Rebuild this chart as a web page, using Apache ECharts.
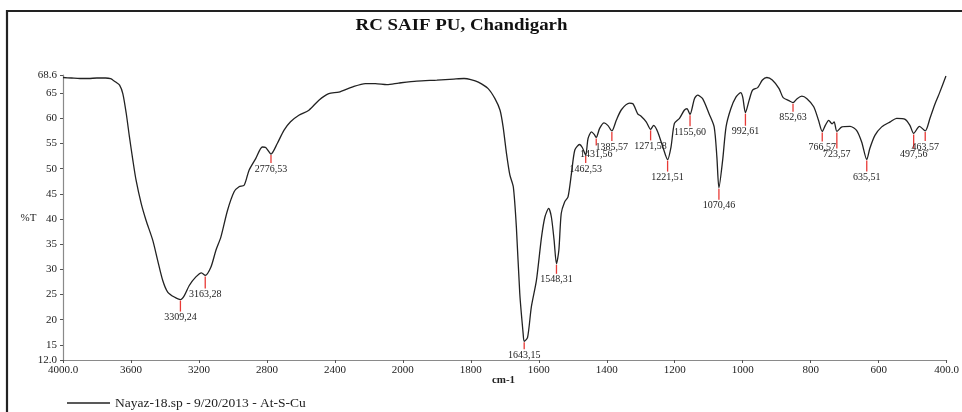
<!DOCTYPE html>
<html><head><meta charset="utf-8">
<script src="https://cdn.jsdelivr.net/npm/echarts@6/dist/echarts.min.js"></script>
<style>html,body{margin:0;padding:0;background:#fff}#c{width:962px;height:412px}</style>
</head><body><div id="c"></div>
<script>
// ---- data (wavenumber cm-1, %T) ----
const wavenumbers = [4000,3950,3900,3850,3800,3750,3720,3707,3690,3667,3648,3628,3609,3589,3570,3540,3511,3472,3443,3413,3384,3345,3309,3286,3257,3218,3185,3163,3130,3100,3071,3032,2993,2964,2934,2905,2866,2827,2807,2776,2739,2700,2661,2612,2553,2494,2436,2377,2299,2221,2162,2094,2025,1959,1900,1850,1820,1800,1778,1749,1729,1714,1705,1695,1685,1675,1666,1656,1646,1643,1633,1622,1607,1592,1582,1571,1563,1555,1548,1541,1534,1524,1514,1504,1494,1480,1472,1462,1455,1445,1437,1431,1421,1408,1397,1385,1372,1357,1333,1323,1309,1299,1284,1271,1262,1250,1235,1221,1211,1201,1186,1172,1164,1155,1142,1133,1118,1099,1084,1076,1070,1059,1049,1035,1020,1006,1000,992,981,971,956,942,929,913,893,881,864,852,840,826,811,791,777,766,757,747,737,731,723,708,684,665,650,635,626,611,591,566,547,522,508,497,480,463,449,434,420,402];
const transmittance = [68.1,68.0,67.9,67.9,68.0,68.0,67.9,67.6,67.2,66.6,64.9,61.0,56.3,51.7,47.7,43.1,39.7,35.8,31.8,27.8,25.5,24.5,24.0,24.8,26.8,28.5,29.3,28.8,30.4,33.8,36.4,41.7,45.4,46.4,46.7,49.7,52.0,54.3,54.2,52.9,55.0,57.6,59.3,60.6,61.6,63.6,64.9,65.2,66.2,66.9,66.9,66.7,67.0,67.4,67.6,67.8,67.9,67.7,67.2,65.9,63.9,61.6,58.3,53.0,48.7,46.4,38.4,25.2,17.2,15.7,16.5,22.5,27.8,36.4,40.4,42.1,40.4,35.8,31.1,33.8,41.1,43.4,44.4,49.0,53.7,54.8,54.2,52.7,56.0,57.3,56.8,56.2,58.0,59.1,58.6,57.5,59.6,61.7,63.0,62.9,60.9,60.4,59.3,57.8,58.6,57.3,54.3,51.8,54.3,59.0,60.0,61.6,61.9,60.8,63.9,64.6,63.9,60.9,58.3,52.3,46.2,51.7,58.3,61.9,64.2,65.1,64.2,61.1,63.6,65.6,66.1,67.6,68.1,67.6,65.9,64.1,63.5,63.1,63.9,64.4,63.9,62.3,59.6,57.4,58.6,59.6,58.9,59.3,57.4,58.3,58.4,57.6,55.3,51.8,54.0,56.6,58.3,59.3,60.0,59.8,58.6,57.0,58.4,57.5,60.0,62.9,65.2,68.4];
const peakWavenumbers = [3309,3163,2776,1643,1548,1462,1431,1385,1271,1221,1155,1070,992,852,766,723,635,497,463];
const peakPercentT = [24,28,53,15,31,53,56,57,58,51,60,46,61,63,57,57,51,56,57];
const xTickLabels = ['4000.0','3600','3200','2800','2400','2000','1800','1600','1400','1200','1000','800','600','400.0'];
const yTickValues = [12,15,20,25,30,35,40,45,50,55,60,65,68.6];
const yTickLabels = ['12.0','15','20','25','30','35','40','45','50','55','60','65','68.6'];
const titleText = 'RC SAIF PU, Chandigarh';
const seriesName = 'Nayaz-18.sp - 9/20/2013 - At-S-Cu';
const yName = '%T';
const xName = 'cm-1';

// ---- annotation layout (pixels) ----
const peakTickLen = [11,12,8,7,9,7,7,9,10,11,11,11,12,8,9,16,11,14,9];
const peakLabelGap = [6,6,6,6,6,6,9,6,6,6,6,6,6,6,6,6,6,6,6];

// axis is split: 4000-2000 at half scale, 2000-400 at full scale
function toAxis(wn){ return wn >= 2000 ? (4000 - wn) / 2 : 1000 + (2000 - wn); }

const spectrum = wavenumbers.map((w, i) => [toAxis(w), transmittance[i]]);
const peaks = peakWavenumbers.map((w, i) => [toAxis(w), transmittance[wavenumbers.indexOf(w)], i]);

const FONT = '"Liberation Serif", "Times New Roman", serif';
const chart = echarts.init(document.getElementById('c'), null, {renderer: 'canvas'});
chart.setOption({
  animation: false,
  backgroundColor: '#fff',
  grid: {left: 63, right: 12, top: 75, bottom: 52, containLabel: false},
  xAxis: {
    type: 'value', min: 0, max: 2600, interval: 200,
    axisLine: {show: true, lineStyle: {color: '#8a8a8a', width: 1.2}},
    axisTick: {show: true, length: 3, lineStyle: {color: '#555'}},
    splitLine: {show: false},
    axisLabel: {
      margin: 5, color: '#222', fontFamily: FONT, fontSize: 11,
      showMinLabel: true, showMaxLabel: true,
      formatter: v => xTickLabels[Math.round(v / 200)]
    }
  },
  yAxis: {
    type: 'value', min: 12, max: 68.6,
    axisLine: {show: true, lineStyle: {color: '#8a8a8a', width: 1.2}},
    axisTick: {show: true, length: 3, lineStyle: {color: '#555'}, customValues: yTickValues},
    splitLine: {show: false},
    axisLabel: {
      margin: 6, color: '#222', fontFamily: FONT, fontSize: 11,
      customValues: yTickValues,
      formatter: v => yTickLabels[yTickValues.indexOf(v)] ?? String(v)
    }
  },
  legend: {
    show: true, left: 67, top: 396, padding: 0,
    icon: 'rect', itemWidth: 43, itemHeight: 1.3, itemGap: 10,
    textStyle: {fontFamily: FONT, fontSize: 13.5, color: '#222'},
    data: [seriesName]
  },
  series: [
    {
      name: seriesName, type: 'line', data: spectrum,
      showSymbol: false, symbol: 'none', smooth: 0.25,
      color: '#222',
      lineStyle: {color: '#222', width: 1.3},
      z: 3
    },
    {
      name: 'peaks', type: 'custom', data: peaks, z: 4,
      renderItem: (params, api) => {
        const i = api.value(2);
        const p = api.coord([api.value(0), api.value(1)]);
        const len = peakTickLen[i];
        return {
          type: 'group',
          children: [
            {type: 'line', shape: {x1: p[0], y1: p[1] + 1, x2: p[0], y2: p[1] + 1 + len},
             style: {stroke: '#e83a36', lineWidth: 1.3}},
            {type: 'text', x: p[0], y: p[1] + 1 + len + peakLabelGap[i],
             style: {text: peakWavenumbers[i] + ',' + peakPercentT[i], fill: '#222',
                     font: '10px ' + FONT, align: 'center', verticalAlign: 'middle'}}
          ]
        };
      }
    }
  ],
  graphic: [
    {type: 'rect', shape: {x: 7, y: 11, width: 980, height: 420},
     style: {fill: 'none', stroke: '#222', lineWidth: 2.2}, silent: true},
    {type: 'text', x: 461.5, y: 26, scaleX: 1.18,
     style: {text: titleText, font: 'bold 16px ' + FONT, fill: '#111', align: 'center', verticalAlign: 'middle'}},
    {type: 'text', x: 28.5, y: 218,
     style: {text: yName, font: '11px ' + FONT, fill: '#222', align: 'center', verticalAlign: 'middle'}},
    {type: 'text', x: 503.5, y: 380,
     style: {text: xName, font: 'bold 11px ' + FONT, fill: '#222', align: 'center', verticalAlign: 'middle'}}
  ]
});
</script></body></html>
